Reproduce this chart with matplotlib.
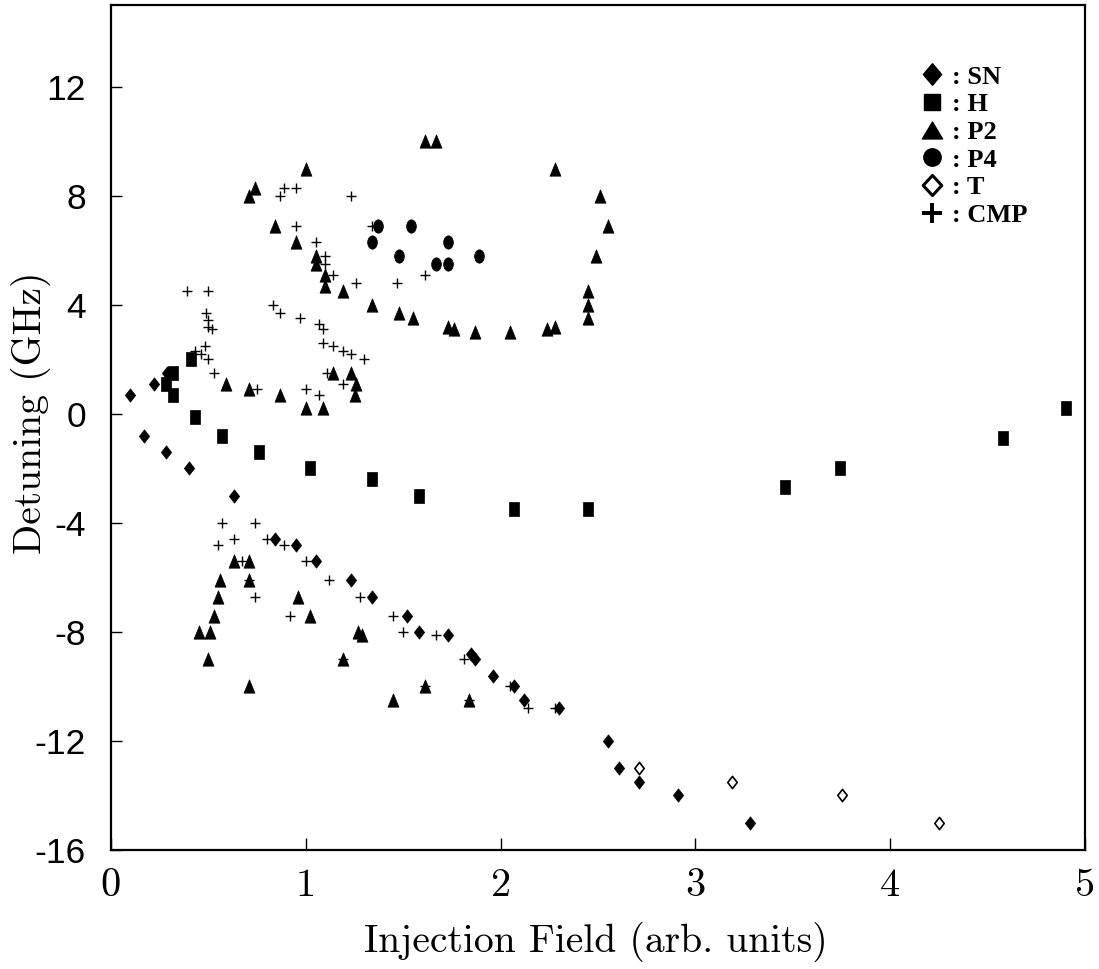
import matplotlib
matplotlib.use('Agg')
import matplotlib.pyplot as plt
from matplotlib.path import Path
from matplotlib.transforms import Affine2D
from matplotlib.lines import Line2D

plt.rcParams['axes.unicode_minus'] = False

# SN : filled diamonds
sn_x = [0.10, 0.17, 0.22, 0.29, 0.28, 0.40, 0.63, 0.84, 0.95, 1.05, 1.23, 1.34, 1.52, 1.58,
        1.73, 1.85, 1.87, 1.96, 2.07, 2.12, 2.30, 2.55, 2.61, 2.71, 2.91, 3.28]
sn_y = [0.7, -0.8, 1.1, 1.5, -1.4, -2.0, -3.0, -4.6, -4.8, -5.4, -6.1, -6.7, -7.4, -8.0,
        -8.1, -8.8, -9.0, -9.6, -10.0, -10.5, -10.8, -12.0, -13.0, -13.5, -14.0, -15.0]

# H : filled squares
h_x = [0.32, 0.28, 0.32, 0.41, 0.43, 0.57, 0.76, 1.02, 1.34, 1.58, 2.07, 2.45,
       3.46, 3.74, 4.58, 4.90]
h_y = [1.5, 1.1, 0.7, 2.0, -0.1, -0.8, -1.4, -2.0, -2.4, -3.0, -3.5, -3.5,
       -2.7, -2.0, -0.9, 0.2]

# P2 : filled triangles
p2_x = [1.00, 0.74, 0.71, 0.84, 0.95, 1.05, 1.05, 1.10, 1.10, 1.19, 1.34, 1.48,
        0.59, 0.71, 0.87, 1.00, 1.09, 1.14, 1.23, 1.26, 1.25,
        1.61, 1.67, 2.28, 2.51, 2.55, 2.49, 2.45, 2.45, 2.45, 2.28, 2.24, 2.05, 1.87,
        1.76, 1.73, 1.55,
        0.63, 0.71, 0.56, 0.71, 0.55, 0.96, 0.53, 1.02, 0.45, 0.51, 1.27, 1.29,
        0.50, 1.19, 0.71, 1.45, 1.61, 1.84]
p2_y = [9.0, 8.3, 8.0, 6.9, 6.3, 5.8, 5.5, 5.1, 4.7, 4.5, 4.0, 3.7,
        1.1, 0.9, 0.7, 0.2, 0.2, 1.5, 1.5, 1.1, 0.7,
        10.0, 10.0, 9.0, 8.0, 6.9, 5.8, 4.5, 4.0, 3.5, 3.2, 3.1, 3.0, 3.0,
        3.1, 3.2, 3.5,
        -5.4, -5.4, -6.1, -6.1, -6.7, -6.7, -7.4, -7.4, -8.0, -8.0, -8.0, -8.1,
        -9.0, -9.0, -10.0, -10.5, -10.0, -10.5]

# P4 : filled circles
p4_x = [1.37, 1.34, 1.48, 1.54, 1.73, 1.67, 1.73, 1.89]
p4_y = [6.9, 6.3, 5.8, 6.9, 6.3, 5.5, 5.5, 5.8]

# T : open diamonds
t_x = [2.71, 3.19, 3.75, 4.25]
t_y = [-13.0, -13.5, -14.0, -15.0]

# CMP : crosses
cmp_x = [0.87, 0.89, 0.95, 1.23, 0.95, 1.34, 1.05, 1.10, 1.10, 1.14, 1.26, 1.47, 1.61,
         0.39, 0.50, 0.49, 0.50, 0.50, 0.52, 0.48, 0.43, 0.46, 0.50, 0.53,
         0.83, 0.87, 0.97, 1.07, 1.09, 1.09, 1.14, 1.19, 1.23, 1.30, 1.11, 1.19,
         0.75, 1.00, 1.07,
         0.57, 0.74, 0.63, 0.55, 0.80, 0.89, 0.67, 1.00, 0.71, 1.12, 0.74, 1.28,
         0.92, 1.45, 1.50, 1.67, 1.81, 1.19, 1.61, 1.84, 2.05, 2.14, 2.28]
cmp_y = [8.0, 8.3, 8.3, 8.0, 6.9, 6.9, 6.3, 5.8, 5.5, 5.1, 4.8, 4.8, 5.1,
         4.5, 4.5, 3.7, 3.45, 3.2, 3.1, 2.5, 2.3, 2.2, 2.0, 1.5,
         4.0, 3.7, 3.5, 3.3, 3.1, 2.6, 2.5, 2.3, 2.2, 2.0, 1.5, 1.1,
         0.9, 0.9, 0.7,
         -4.0, -4.0, -4.6, -4.8, -4.6, -4.8, -5.4, -5.4, -6.1, -6.1, -6.7, -6.7,
         -7.4, -7.4, -8.0, -8.1, -9.0, -9.0, -10.0, -10.5, -10.0, -10.8, -10.8]

x_ticks = [0, 1, 2, 3, 4, 5]
y_ticks = [-16, -12, -8, -4, 0, 4, 8, 12]
legend_labels = [': SN', ': H', ': P2', ': P4', ': T', ': CMP']


def poly(verts):
    verts = list(verts) + [verts[0]]
    return Path(verts, closed=True)


# the markers in the plot area are taller than wide
diamond_tall = poly([(0, 1), (0.77, 0), (0, -1), (-0.77, 0)])
square_tall = poly([(-0.76, -1), (0.76, -1), (0.76, 1), (-0.76, 1)])
triangle_tall = poly([(0, 1), (0.82, -1), (-0.82, -1)])
circle_tall = Path.unit_circle().transformed(Affine2D().scale(0.73, 1))

fig = plt.figure(figsize=(10.99, 9.69), dpi=100)
ax = fig.add_axes([0.101, 0.1228, 0.8863, 0.872])

ax.plot(sn_x, sn_y, ls='none', marker=diamond_tall, ms=9.6, mfc='black', mec='black', mew=0.5)
ax.plot(h_x, h_y, ls='none', marker=square_tall, ms=10, mfc='black', mec='black', mew=0.5)
ax.plot(p2_x, p2_y, ls='none', marker=triangle_tall, ms=9.6, mfc='black', mec='black', mew=0.5)
ax.plot(p4_x, p4_y, ls='none', marker=circle_tall, ms=9.6, mfc='black', mec='black', mew=0.5)
ax.plot(t_x, t_y, ls='none', marker=diamond_tall, ms=8.8, mfc='white', mec='black', mew=1.2)
ax.plot(cmp_x, cmp_y, ls='none', marker='+', ms=7.5, mec='black', mew=1.0)

ax.set_xlim(0, 5)
ax.set_ylim(-16, 15)

ax.set_xticks(x_ticks)
ax.set_xticklabels([str(v) for v in x_ticks], fontfamily='cmr10', fontsize=29)
ax.set_yticks(y_ticks)
ax.set_yticklabels([str(v) for v in y_ticks], fontfamily='Liberation Sans', fontsize=25.5)
ax.tick_params(axis='x', direction='in', length=9, width=1, pad=13)
ax.tick_params(axis='y', direction='in', length=8, width=1, pad=18)
for s in ax.spines.values():
    s.set_linewidth(1.6)

ax.set_xlabel('Injection Field (arb. units)', fontfamily='cmr10', fontsize=28.5)
ax.set_ylabel('Detuning (GHz)', fontfamily='cmr10', fontsize=28.5)
ax.xaxis.set_label_coords(0.498, -0.085)
ax.yaxis.set_label_coords(-0.062, 0.518)

# legend markers are drawn with normal proportions
handles = [
    Line2D([], [], ls='none', marker=poly([(0, 1), (0.85, 0), (0, -1), (-0.85, 0)]), ms=15.5,
           mfc='black', mec='black'),
    Line2D([], [], ls='none', marker='s', ms=11.5, mfc='black', mec='black'),
    Line2D([], [], ls='none', marker=poly([(0, 0.84), (1, -0.84), (-1, -0.84)]), ms=14.5,
           mfc='black', mec='black'),
    Line2D([], [], ls='none', marker='o', ms=12.5, mfc='black', mec='black'),
    Line2D([], [], ls='none', marker=poly([(0, 1), (0.92, 0), (0, -1), (-0.92, 0)]), ms=14.5,
           mfc='white', mec='black', mew=2.2),
    Line2D([], [], ls='none', marker='+', ms=15, mec='black', mew=2.8),
]
ax.legend(handles, legend_labels, loc='upper left', bbox_to_anchor=(0.831, 0.929),
          frameon=False, handlelength=0.9, handletextpad=0.3, borderpad=0,
          borderaxespad=0, labelspacing=0.16,
          prop={'family': 'Liberation Serif', 'weight': 'bold', 'size': 19})

fig.savefig('out.png', dpi=100)
